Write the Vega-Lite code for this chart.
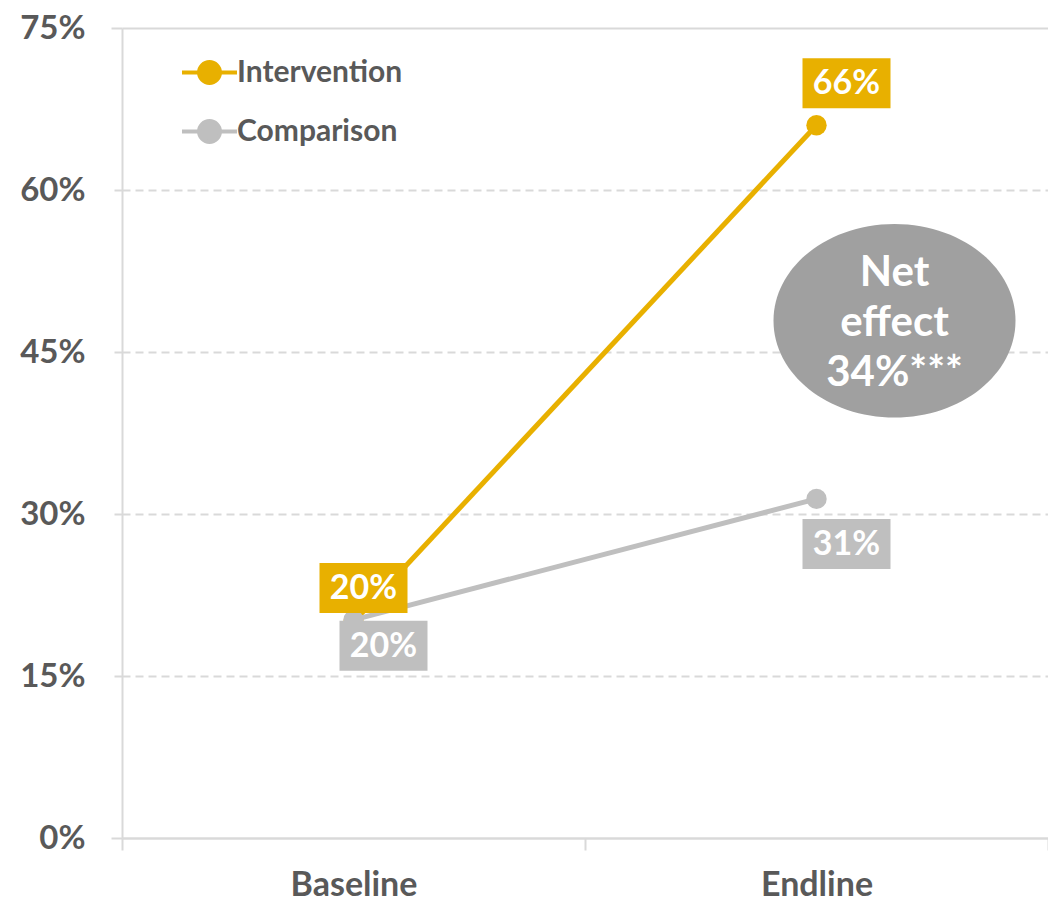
{
  "$schema": "https://vega.github.io/schema/vega-lite/v6.json",
  "width": 926,
  "height": 810,
  "autosize": "none",
  "padding": {"left": 122, "top": 28, "right": 0, "bottom": 63},
  "background": "white",
  "config": {
    "view": {"stroke": null},
    "font": "Lato",
    "axis": {"labelFont": "Lato", "labelFontWeight": "bold", "labelColor": "#595959", "title": null},
    "legend": {"labelFont": "Lato", "labelFontWeight": "bold"}
  },
  "datasets": {
    "rates": [
      {"group": "Intervention", "phase": "Baseline", "value": 20},
      {"group": "Intervention", "phase": "Endline", "value": 66},
      {"group": "Comparison", "phase": "Baseline", "value": 20.2},
      {"group": "Comparison", "phase": "Endline", "value": 31.4}
    ],
    "netEffect": [
      {"phase": "Endline", "value": 47.9, "note": "Net\neffect\n34%***"}
    ]
  },
  "encoding": {
    "x": {
      "field": "phase",
      "type": "nominal",
      "sort": ["Baseline", "Endline"],
      "scale": {"type": "band", "paddingInner": 0, "paddingOuter": 0},
      "axis": {
        "labelAngle": 0,
        "labelFontSize": 34,
        "labelPadding": 18,
        "domainColor": "#D9D9D9",
        "domainWidth": 2,
        "tickBand": "extent",
        "tickColor": "#D9D9D9",
        "tickWidth": 2,
        "tickSize": 12,
        "grid": false
      }
    },
    "y": {
      "field": "value",
      "type": "quantitative",
      "scale": {"domain": [0, 75], "nice": false},
      "axis": {
        "values": [0, 15, 30, 45, 60, 75],
        "labelExpr": "datum.value + '%'",
        "labelFontSize": 33,
        "labelPadding": 26,
        "domain": true,
        "domainColor": "#D9D9D9",
        "domainWidth": 2,
        "grid": true,
        "gridColor": "#D9D9D9",
        "gridWidth": 2,
        "gridDash": {"condition": {"test": "datum.value === 75 || datum.value === 0", "value": []}, "value": [8, 5]},
        "ticks": true,
        "tickSize": 11,
        "tickColor": "#D9D9D9",
        "tickWidth": 2,
        "tickDash": {"condition": {"test": "datum.value === 75 || datum.value === 0", "value": []}, "value": [8, 5]}
      }
    }
  },
  "layer": [
    {
      "data": {"name": "rates"},
      "mark": {"type": "line", "strokeWidth": 5},
      "encoding": {
        "color": {
          "field": "group",
          "type": "nominal",
          "scale": {"domain": ["Intervention", "Comparison"], "range": ["#E8B000", "#BFBFBF"]},
          "legend": {
            "title": null,
            "orient": "none",
            "legendX": 58,
            "legendY": 15,
            "padding": 0,
            "symbolType": "M-1,0H1M-0.38,0A0.38,0.38 0 1,1 0.38,0A0.38,0.38 0 1,1 -0.38,0Z",
            "symbolSize": 3025,
            "symbolStrokeWidth": 4,
            "labelFontSize": 30,
            "labelColor": "#595959",
            "labelLimit": 400,
            "labelOffset": -2,
            "rowPadding": 11,
            "encode": {
              "symbols": {
                "update": {
                  "fill": {"scale": "color", "field": "value"},
                  "stroke": {"scale": "color", "field": "value"},
                  "opacity": {"value": 1}
                }
              }
            }
          }
        }
      }
    },
    {
      "data": {"name": "rates"},
      "mark": {"type": "point", "filled": true, "size": 415, "opacity": 1},
      "encoding": {
        "color": {"field": "group", "type": "nominal", "legend": null}
      }
    },
    {
      "data": {"name": "rates"},
      "mark": {
        "type": "point",
        "filled": true,
        "opacity": 1,
        "size": 10000,
        "shape": "M-0.88,-0.5H0.88V0.5H-0.88Z",
        "xOffset": {"expr": "datum.group === 'Intervention' && datum.phase === 'Baseline' ? 10 : 30"},
        "yOffset": {"expr": "datum.group === 'Intervention' ? (datum.phase === 'Baseline' ? -34 : -42) : (datum.phase === 'Baseline' ? 26 : 45)"}
      },
      "encoding": {
        "color": {"field": "group", "type": "nominal", "legend": null}
      }
    },
    {
      "data": {"name": "rates"},
      "mark": {
        "type": "text",
        "font": "Lato",
        "fontWeight": "bold",
        "fontSize": 34,
        "color": "white",
        "align": "center",
        "baseline": "middle",
        "xOffset": {"expr": "datum.group === 'Intervention' && datum.phase === 'Baseline' ? 10 : 30"},
        "yOffset": {"expr": "datum.group === 'Intervention' ? (datum.phase === 'Baseline' ? -33 : -41) : (datum.phase === 'Baseline' ? 27 : 46)"}
      },
      "encoding": {
        "text": {"value": {"expr": "format(datum.value, '.0f') + '%'"}}
      }
    },
    {
      "data": {"name": "netEffect"},
      "mark": {
        "type": "point",
        "filled": true,
        "opacity": 1,
        "color": "#A0A0A0",
        "size": 58564,
        "shape": "M-1,0A1,0.8 0 1,0 1,0A1,0.8 0 1,0 -1,0Z",
        "xOffset": 78
      }
    },
    {
      "data": {"name": "netEffect"},
      "mark": {
        "type": "text",
        "font": "Lato",
        "fontWeight": "bold",
        "fontSize": 42,
        "lineHeight": 50,
        "lineBreak": "\n",
        "color": "white",
        "align": "center",
        "baseline": "middle",
        "xOffset": 78,
        "yOffset": -48
      },
      "encoding": {
        "text": {"field": "note", "type": "nominal"}
      }
    }
  ]
}
